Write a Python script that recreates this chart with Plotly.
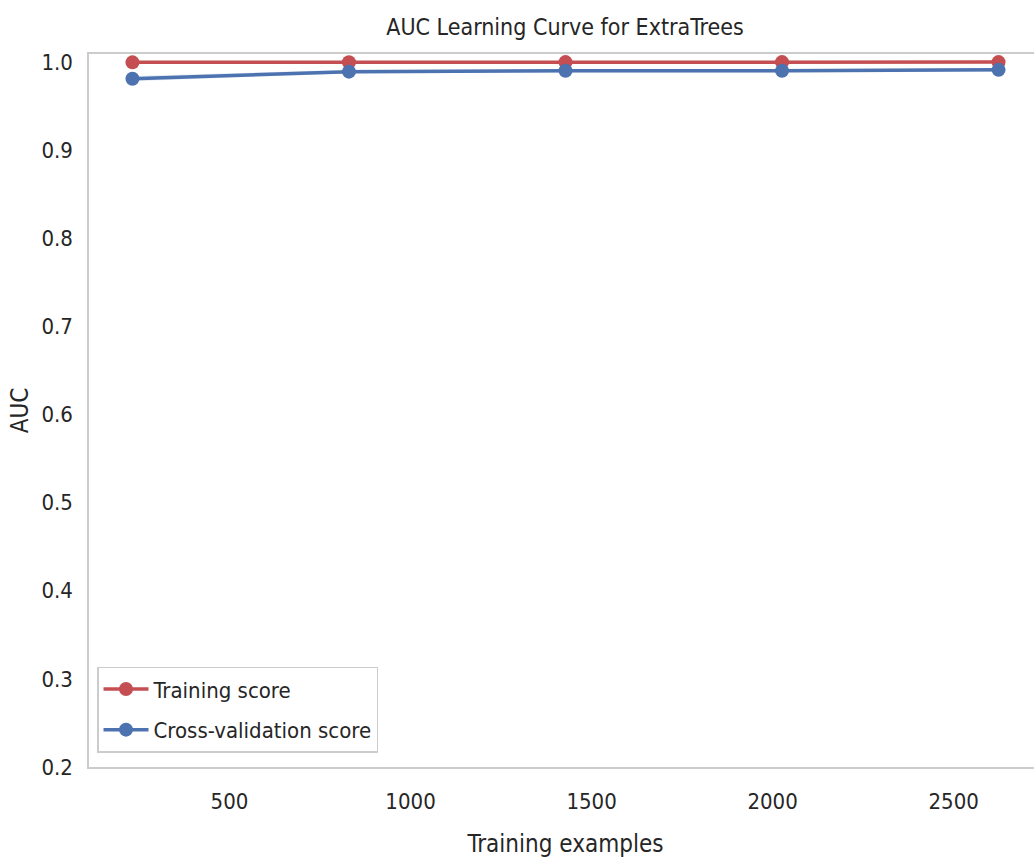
import plotly.graph_objects as go

train_sizes = [232, 830, 1428, 2026, 2624]
train_mean = [0.9995, 0.9997, 0.9998, 0.9998, 0.9998]
train_std = [0.0008, 0.0006, 0.0005, 0.0005, 0.0005]
cv_mean = [0.981, 0.989, 0.990, 0.990, 0.991]
cv_std = [0.003, 0.002, 0.002, 0.002, 0.002]

x_ticks = [500, 1000, 1500, 2000, 2500]
y_ticks = [0.2, 0.3, 0.4, 0.5, 0.6, 0.7, 0.8, 0.9, 1.0]

RED = "#C44E52"
BLUE = "#4C72B0"
FONT = "DejaVu Sans Condensed, DejaVu Sans, sans-serif"

fig = go.Figure()

def band(mean, std, color):
    up = [m + s for m, s in zip(mean, std)]
    lo = [m - s for m, s in zip(mean, std)]
    fig.add_trace(go.Scatter(x=train_sizes, y=up, mode="lines", line=dict(width=0),
                             showlegend=False, hoverinfo="skip"))
    fig.add_trace(go.Scatter(x=train_sizes, y=lo, mode="lines", line=dict(width=0),
                             fill="tonexty", fillcolor=color, showlegend=False, hoverinfo="skip"))

band(train_mean, train_std, "rgba(196,78,82,0.15)")
band(cv_mean, cv_std, "rgba(76,114,176,0.15)")

fig.add_trace(go.Scatter(x=train_sizes, y=train_mean, mode="lines+markers", name="Training score",
                         legendgroup="a",
                         line=dict(color=RED, width=3.5), marker=dict(color=RED, size=14)))
fig.add_trace(go.Scatter(x=train_sizes, y=cv_mean, mode="lines+markers", name="Cross-validation score",
                         legendgroup="b",
                         line=dict(color=BLUE, width=3.5), marker=dict(color=BLUE, size=14)))

W, H = 1044, 864
fig.update_layout(
    width=W, height=H,
    margin=dict(l=89, r=2, t=54, b=97, autoexpand=False),
    paper_bgcolor="white", plot_bgcolor="white",
    font=dict(family=FONT, size=22, color="#262626"),
    title=dict(text="AUC Learning Curve for ExtraTrees", x=565 / W, xanchor="center",
               yref="container", y=1 - 27 / H, yanchor="middle", font=dict(size=23, color="#262626")),
    xaxis=dict(range=[112, 2744], tickvals=x_ticks, showgrid=False, zeroline=False,
               showline=True, linecolor="#cccccc", linewidth=1.5, mirror=True,
               ticks="", ticklen=0, tickfont=dict(size=22), ticklabelstandoff=14, automargin=False,
               title=dict(text="Training examples", font=dict(size=24), standoff=22)),
    yaxis=dict(range=[0.2, 1.009], tickvals=y_ticks, tickformat=".1f", showgrid=False,
               zeroline=False, showline=True, linecolor="#cccccc", linewidth=1.5, mirror=True,
               ticks="", ticklen=0, tickfont=dict(size=22), ticklabelstandoff=10, automargin=False,
               title=dict(text="AUC", font=dict(size=24), standoff=6)),
    legend=dict(x=0.0084, y=0.02, xanchor="left", yanchor="bottom", traceorder="grouped",
                bgcolor="rgba(255,255,255,0.8)", bordercolor="#cccccc", borderwidth=1.5,
                font=dict(size=22), tracegroupgap=9, itemwidth=45),
)

fig.write_html(
    "out.html",
    config={"displayModeBar": False},
    post_script="document.body.style.margin='0';document.body.style.overflow='hidden';",
)
